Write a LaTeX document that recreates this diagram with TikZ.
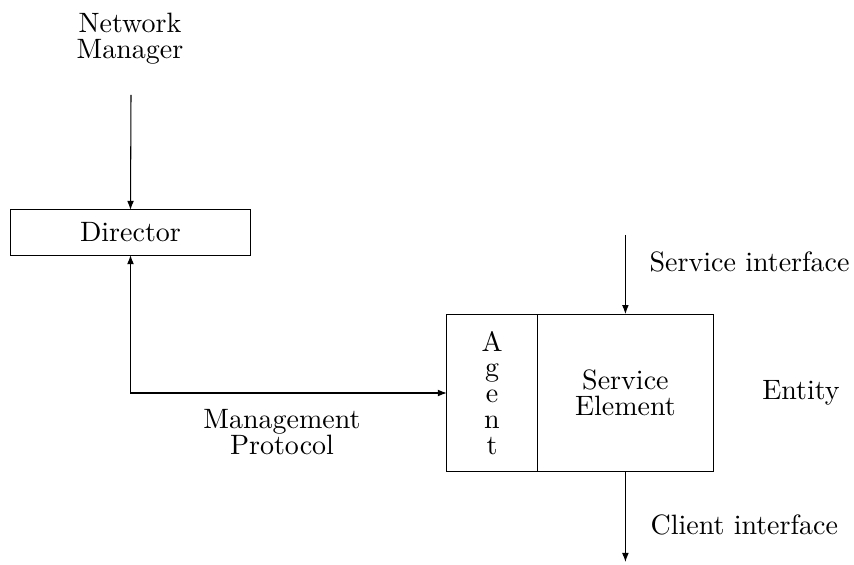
\documentclass[tikz,border=0pt]{standalone}
\usetikzlibrary{arrows.meta,positioning}
\begin{document}
\begin{tikzpicture}[x=0.0133cm,y=-0.0133cm,thin,
    >={Latex[length=1.2mm,width=0.9mm]},
    lbl/.style={align=center,font=\fontsize{10.6}{9.8}\selectfont,inner sep=0pt},
    blk/.style={draw,lbl,outer sep=0pt,minimum height=2.1cm}]
\useasboundingbox (0,0) rectangle (854,565);
\node[lbl] (nm) at (130,39) {Network\\Manager};
\coordinate (nmend) at (131,95);
\node[draw,lbl,outer sep=0pt,minimum width=3.2cm,minimum height=0.6cm] (dir) at (130.5,232.5) {Director};
\draw[->] (nmend) -- (dir.north);
\node[blk,minimum width=1.2cm] (agent) at (492,393) {A\\g\\e\\n\\t};
\node[blk,minimum width=2.35cm,anchor=west] (se) at (agent.east) {Service\\Element};
\node[lbl] (ent) at (801,393) {Entity};
\draw[<->] (dir.south) |- (agent.west);
\node[lbl] (mp) at (282,432) {Management\\Protocol};
% interfaces of the service element
\coordinate (sitop) at (se.north |- 0,235);
\coordinate (cibot) at (se.south |- 0,562);
\draw[->] (sitop) -- (se.north);
\draw[->] (se.south) -- (cibot);
\node[lbl,anchor=west] (si) at (649,262) {Service interface};
\node[lbl,anchor=west] (ci) at (650,525) {Client interface};
\end{tikzpicture}
\end{document}
